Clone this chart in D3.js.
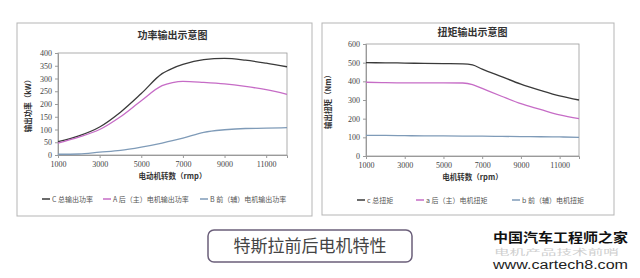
<!DOCTYPE html>
<html>
<head>
<meta charset="utf-8">
<script src="https://cdn.jsdelivr.net/npm/d3@7"></script>
<style>
  body { margin: 0; background: #fff; }
  svg { display: block; }
</style>
</head>
<body>
<div id="grafica"></div>
<script>
// rpm points shared by both charts
const rpm = [1000, 2000, 3000, 4000, 5000, 6000, 6500, 7000, 8000, 9000, 10000, 11000, 12000];

// power (kW)
const powerTotal = [52, 75, 110, 168, 241, 319, 340, 355, 374, 379, 372, 360, 346];
const powerRear  = [47, 70, 100, 150, 213, 272, 284, 289, 285, 279, 269, 256, 238];
const powerFront = [3, 4, 11, 18, 31, 47, 56, 66, 89, 99, 104, 105, 107];

// torque (Nm)
const torqueTotal = [500, 499, 498, 496, 495, 494, 488, 465, 425, 385, 352, 322, 300];
const torqueRear  = [395, 393, 392, 392, 392, 391, 383, 362, 320, 280, 250, 220, 200];
const torqueFront = [110, 110, 109, 108, 108, 107, 106, 106, 105, 104, 103, 102, 100];

const xTicks = [1000, 3000, 5000, 7000, 9000, 11000];
const powerTicks = [0, 50, 100, 150, 200, 250, 300, 350, 400];
const torqueTicks = [0, 100, 200, 300, 400, 500, 600];

const colTotal = "#3a3a3a", colRear = "#c66cc6", colFront = "#7f9bb8";
const cjk = "'Noto Sans CJK SC', sans-serif";
const serif = "'Liberation Serif', 'DejaVu Serif', serif";

const svg = d3.select("#grafica").append("svg")
    .attr("width", 640).attr("height", 278);

function drawChart(cfg) {
    const g = svg.append("g");
    g.append("rect")
        .attr("x", cfg.box[0]).attr("y", cfg.box[1])
        .attr("width", cfg.box[2]).attr("height", cfg.box[3])
        .attr("fill", "#fff").attr("stroke", "#b5b5b5").attr("stroke-width", 1);

    const x = d3.scaleLinear().domain([1000, 12000]).range([cfg.plot[0], cfg.plot[1]]);
    const y = d3.scaleLinear().domain([0, cfg.yMax]).range([cfg.plot[3], cfg.plot[2]]);

    // plot frame
    g.append("rect")
        .attr("x", cfg.plot[0]).attr("y", cfg.plot[2])
        .attr("width", cfg.plot[1] - cfg.plot[0]).attr("height", cfg.plot[3] - cfg.plot[2])
        .attr("fill", "none").attr("stroke", "#9a9a9a").attr("stroke-width", 0.8);

    const xAxis = g.append("g")
        .attr("transform", `translate(0,${cfg.plot[3]})`)
        .call(d3.axisBottom(x).tickValues(xTicks).tickSize(3).tickPadding(3).tickFormat(d3.format("d")));
    const yAxis = g.append("g")
        .attr("transform", `translate(${cfg.plot[0]},0)`)
        .call(d3.axisLeft(y).tickValues(cfg.yTicks).tickSize(3).tickPadding(3));
    [xAxis, yAxis].forEach(a => {
        a.select(".domain").attr("stroke", "#9a9a9a");
        a.selectAll(".tick line").attr("stroke", "#9a9a9a");
        a.selectAll("text").attr("font-family", serif).attr("font-size", 8).attr("fill", "#444");
    });

    const line = d3.line()
        .x((d, i) => x(rpm[i]))
        .y(d => y(d))
        .curve(d3.curveMonotoneX);

    cfg.series.forEach(s => {
        g.append("path").datum(s.values)
            .attr("d", line)
            .attr("fill", "none")
            .attr("stroke", s.color)
            .attr("stroke-width", 1.3);
    });

    const midX = (cfg.plot[0] + cfg.plot[1]) / 2;
    g.append("text").text(cfg.title)
        .attr("x", midX).attr("y", cfg.titleY)
        .attr("text-anchor", "middle")
        .attr("font-family", cjk).attr("font-size", 10).attr("font-weight", "bold").attr("fill", "#333");
    g.append("text").text(cfg.xLabel)
        .attr("x", midX).attr("y", cfg.plot[3] + 24)
        .attr("text-anchor", "middle")
        .attr("font-family", cjk).attr("font-size", 7.5).attr("font-weight", "bold").attr("fill", "#333");
    g.append("text").text(cfg.yLabel)
        .attr("transform", `translate(${cfg.yLabelX},${(cfg.plot[2] + cfg.plot[3]) / 2}) rotate(-90)`)
        .attr("text-anchor", "middle")
        .attr("font-family", cjk).attr("font-size", 7.5).attr("font-weight", "bold").attr("fill", "#333");

    // legend
    cfg.series.forEach((s, i) => {
        const lx = cfg.legendX[i];
        g.append("line")
            .attr("x1", lx).attr("x2", lx + 8)
            .attr("y1", cfg.legendY).attr("y2", cfg.legendY)
            .attr("stroke", s.color).attr("stroke-width", 1.5);
        g.append("text").text(s.name)
            .attr("x", lx + 10).attr("y", cfg.legendY + 2.5)
            .attr("font-family", cjk).attr("font-size", 7).attr("fill", "#555");
    });
}

drawChart({
    box: [17, 23, 295, 193],
    plot: [58, 287, 53, 155],
    yMax: 400, yTicks: powerTicks,
    title: "功率输出示意图", titleY: 39,
    xLabel: "电动机转数（rmp）",
    yLabel: "输出功率（kW）", yLabelX: 31,
    legendY: 199, legendX: [42, 103, 200],
    series: [
        { name: "C 总输出功率", values: powerTotal, color: colTotal },
        { name: "A 后（主）电机输出功率", values: powerRear, color: colRear },
        { name: "B 前（辅）电机输出功率", values: powerFront, color: colFront }
    ]
});

drawChart({
    box: [322, 23, 292, 192],
    plot: [366, 579, 44, 156],
    yMax: 600, yTicks: torqueTicks,
    title: "扭矩输出示意图", titleY: 36,
    xLabel: "电机转数（rpm）",
    yLabel: "输出扭矩（Nm）", yLabelX: 331,
    legendY: 200, legendX: [357, 416, 512],
    series: [
        { name: "c 总扭矩", values: torqueTotal, color: colTotal },
        { name: "a 后（主）电机扭矩", values: torqueRear, color: colRear },
        { name: "b 前（辅）电机扭矩", values: torqueFront, color: colFront }
    ]
});

// caption box
svg.append("rect")
    .attr("x", 208).attr("y", 230).attr("width", 204).attr("height", 32)
    .attr("rx", 6).attr("ry", 6)
    .attr("fill", "#fff").attr("stroke", "#6b5f7a").attr("stroke-width", 1.5);
svg.append("text").text("特斯拉前后电机特性")
    .attr("x", 310).attr("y", 252)
    .attr("text-anchor", "middle")
    .attr("font-family", cjk).attr("font-size", 17).attr("fill", "#444");

// watermark
svg.append("text").text("中国汽车工程师之家")
    .attr("x", 493).attr("y", 242)
    .attr("textLength", 135).attr("lengthAdjust", "spacingAndGlyphs")
    .attr("font-family", cjk).attr("font-size", 13).attr("font-weight", "bold").attr("fill", "#111");
svg.append("text").text("电机产品技术前哨")
    .attr("x", 494).attr("y", 255)
    .attr("textLength", 125).attr("lengthAdjust", "spacingAndGlyphs")
    .attr("font-family", cjk).attr("font-size", 8).attr("fill", "#cfcfcf");
svg.append("text").text("www.cartech8.com")
    .attr("x", 493).attr("y", 269)
    .attr("textLength", 135).attr("lengthAdjust", "spacingAndGlyphs")
    .attr("font-family", "'Liberation Sans Narrow', 'Liberation Sans', sans-serif")
    .attr("font-size", 12).attr("fill", "#222");
</script>
</body>
</html>
